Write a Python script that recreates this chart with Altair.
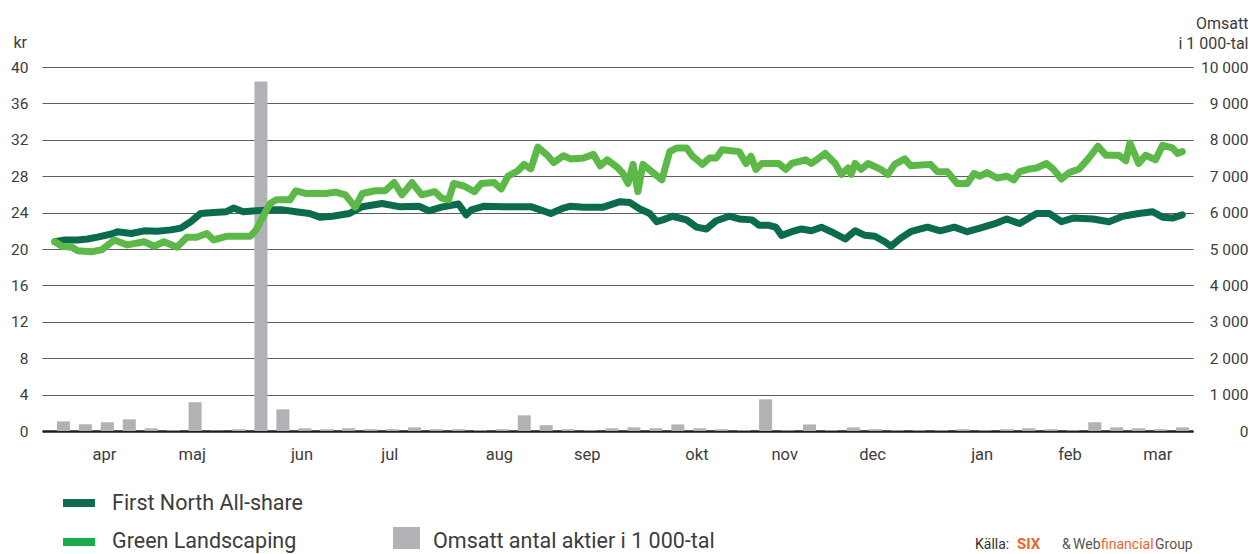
import altair as alt
import pandas as pd

FONT = "Roboto"
TXT = "#3c3c3c"

# ---- weekly traded volume (thousands of shares), weeks 1..52 ----
weeks = list(range(1, 53))
volume = [265, 185, 240, 320, 75, 20, 790, 10, 50, 9600,
          595, 75, 50, 75, 50, 50, 100, 50, 50, 20,
          50, 430, 160, 50, 20, 75, 100, 75, 180, 75,
          50, 20, 870, 20, 180, 20, 100, 50, 20, 20,
          20, 50, 20, 50, 75, 50, 20, 240, 100, 75,
          50, 100]

# ---- First North All-share (indexed, kr) : position in weeks / value ----
fn_w = [0.61, 1.06, 1.65, 2.10, 2.55, 3.19, 3.46, 4.09, 4.68, 5.27, 5.90, 6.35, 6.80, 7.25,
        7.84, 8.43, 8.75, 9.20, 9.78, 10.42, 11.00, 11.59, 12.22, 12.68, 13.26, 14.03, 14.62,
        15.52, 16.29, 17.20, 17.65, 18.23, 19.00, 19.36, 19.59, 20.18, 21.08, 22.30, 23.21,
        23.79, 24.11, 24.70, 25.60, 26.37, 26.82, 27.27, 27.72, 28.04, 28.31, 28.76, 29.40,
        29.85, 30.30, 30.75, 31.34, 31.79, 32.38, 32.70, 33.15, 33.46, 33.73, 34.19, 34.64,
        35.09, 35.54, 35.99, 36.63, 37.08, 37.53, 37.98, 38.43, 38.71, 39.16, 39.61, 40.06,
        40.38, 40.96, 41.60, 42.19, 42.77, 43.41, 43.99, 44.58, 45.35, 45.94, 46.48, 47.02,
        47.92, 48.65, 49.28, 50.00, 50.64, 51.09, 51.54, 51.99]
fn_kr = [20.8, 21.0, 21.0, 21.1, 21.3, 21.65, 21.9, 21.7, 22.0, 21.95, 22.1, 22.3, 23.0, 23.9,
         24.0, 24.1, 24.5, 24.1, 24.2, 24.3, 24.3, 24.1, 23.9, 23.5, 23.6, 23.9, 24.65,
         25.0, 24.65, 24.7, 24.2, 24.6, 24.95, 23.75, 24.3, 24.7, 24.65, 24.65, 23.9,
         24.5, 24.7, 24.6, 24.6, 25.2, 25.1, 24.4, 23.9, 23.0, 23.2, 23.6, 23.2,
         22.4, 22.2, 23.1, 23.6, 23.3, 23.2, 22.6, 22.6, 22.4, 21.5, 21.9, 22.2,
         22.0, 22.4, 21.9, 21.1, 22.0, 21.5, 21.4, 20.8, 20.3, 21.2, 21.9, 22.2,
         22.4, 22.0, 22.4, 21.9, 22.3, 22.75, 23.3, 22.8, 23.9, 23.9, 23.0, 23.4,
         23.3, 23.0, 23.6, 23.9, 24.1, 23.5, 23.4, 23.75]

# ---- Green Landscaping (kr) ----
gl_w = [0.61, 0.93, 1.38, 1.65, 2.28, 2.73, 3.32, 3.91, 4.68, 5.13, 5.58, 6.17, 6.62, 7.07,
        7.53, 7.84, 8.43, 9.20, 9.51, 9.78, 10.10, 10.42, 10.69, 11.32, 11.59, 12.04, 12.95,
        13.40, 13.85, 14.30, 14.62, 15.21, 15.66, 16.07, 16.43, 16.88, 17.33, 17.92, 18.23,
        18.55, 18.78, 19.27, 19.73, 20.04, 20.63, 20.95, 21.26, 21.71, 21.99, 22.30, 22.62,
        23.07, 23.34, 23.79, 24.11, 24.70, 25.15, 25.46, 25.78, 26.23, 26.50, 26.73, 26.96,
        27.18, 27.41, 27.86, 28.27, 28.63, 28.94, 29.40, 29.67, 30.12, 30.44, 30.75, 31.02,
        31.79, 32.11, 32.33, 32.56, 32.83, 33.60, 33.92, 34.19, 34.82, 35.09, 35.72, 36.17,
        36.45, 36.76, 36.90, 37.08, 37.35, 37.67, 38.25, 38.57, 38.88, 39.34, 39.61, 39.93,
        40.51, 40.83, 41.28, 41.73, 42.19, 42.50, 42.77, 43.09, 43.54, 43.99, 44.31, 44.58,
        45.03, 45.35, 45.80, 46.12, 46.48, 46.84, 47.29, 47.70, 48.15, 48.51, 49.10, 49.42,
        49.60, 50.00, 50.32, 50.77, 51.09, 51.54, 51.77, 51.99]
gl_kr = [20.8, 20.3, 20.2, 19.8, 19.7, 19.9, 21.0, 20.45, 20.8, 20.3, 20.8, 20.2, 21.3, 21.3,
         21.7, 21.0, 21.4, 21.4, 21.4, 22.1, 23.6, 25.0, 25.4, 25.4, 26.4, 26.1, 26.1,
         26.25, 25.95, 24.6, 26.1, 26.4, 26.4, 27.3, 25.95, 27.3, 25.95, 26.3, 25.6,
         25.4, 27.2, 26.9, 26.3, 27.2, 27.3, 26.6, 28.0, 28.6, 29.3, 28.8, 31.2,
         30.25, 29.5, 30.25, 29.9, 30.0, 30.4, 29.15, 29.8, 29.0, 28.3, 27.2, 29.3,
         26.3, 29.3, 28.4, 27.6, 30.7, 31.1, 31.1, 30.2, 29.3, 30.0, 30.0, 30.9,
         30.7, 29.4, 30.2, 28.75, 29.4, 29.4, 28.75, 29.4, 29.8, 29.4, 30.5, 29.4,
         28.2, 28.9, 28.2, 29.4, 28.75, 29.4, 28.75, 28.2, 29.3, 29.9, 29.15, 29.2,
         29.3, 28.5, 28.5, 27.2, 27.2, 28.3, 28.0, 28.4, 27.8, 28.0, 27.6, 28.5,
         28.8, 28.9, 29.4, 28.75, 27.7, 28.4, 28.8, 29.9, 31.3, 30.3, 30.3, 29.7,
         31.65, 29.4, 30.3, 29.8, 31.4, 31.1, 30.5, 30.7]

# ---- month tick labels ----
months = ["apr", "maj", "jun", "jul", "aug", "sep", "okt", "nov", "dec", "jan", "feb", "mar"]
month_pos = [2.87, 6.87, 11.87, 15.87, 20.87, 24.87, 29.87, 33.87, 37.87, 42.87, 46.87, 50.87]

legend_labels = ["First North All-share", "Green Landscaping", "Omsatt antal aktier i 1 000-tal"]
colors = ["#0b6b4e", "#5cb947", "#b1b2b6"]

xs = alt.Scale(domain=[0.25, 52.25], nice=False, zero=False)

bars = alt.Chart(pd.DataFrame({"week": weeks, "vol": volume})).mark_bar(
    size=13, color=colors[2]
).encode(
    x=alt.X("week:Q", scale=xs, axis=alt.Axis(labels=False, ticks=False, grid=False, domain=True,
                                              domainColor="#1e1e1e", domainWidth=2.5, title=None)),
    y=alt.Y("vol:Q", scale=alt.Scale(domain=[0, 10000], nice=False),
            axis=alt.Axis(orient="right", values=list(range(0, 10001, 1000)),
                          labelExpr="replace(format(datum.value, ','), ',', ' ')",
                          grid=False, ticks=False, tickSize=0, domain=False,
                          labelAlign="right", labelPadding=55, labelFontSize=15.5,
                          labelColor=TXT, labelFont=FONT,
                          title=["Omsatt", "i 1 000-tal"], titleAngle=0, titleAlign="right",
                          titleBaseline="alphabetic", titleX=55, titleY=-39, titleLineHeight=20,
                          titleFontSize=16, titleFontWeight="normal", titleColor=TXT, titleFont=FONT)),
)

ykr_axis = alt.Axis(orient="left", values=list(range(0, 41, 4)), grid=True, gridColor="#5e5e5e",
                    gridWidth=1.2, ticks=False, tickSize=0, domain=False, labelPadding=14,
                    labelFontSize=15.5, labelColor=TXT, labelFont=FONT,
                    title="kr", titleAngle=0, titleAlign="left", titleBaseline="alphabetic",
                    titleX=-29, titleY=-20, titleFontSize=16, titleFontWeight="normal",
                    titleColor=TXT, titleFont=FONT)
ykr_scale = alt.Scale(domain=[0, 40], nice=False)

fn_line = alt.Chart(pd.DataFrame({"w": fn_w, "kr": fn_kr})).mark_line(
    color=colors[0], strokeWidth=7, strokeCap="round", strokeJoin="round"
).encode(x=alt.X("w:Q", scale=xs), y=alt.Y("kr:Q", scale=ykr_scale, axis=ykr_axis))

gl_line = alt.Chart(pd.DataFrame({"w": gl_w, "kr": gl_kr})).mark_line(
    color=colors[1], strokeWidth=7, strokeCap="round", strokeJoin="round"
).encode(x=alt.X("w:Q", scale=xs), y=alt.Y("kr:Q", scale=ykr_scale, axis=ykr_axis))

lines = alt.layer(fn_line, gl_line)

month_text = alt.Chart(pd.DataFrame({"m": months, "pos": month_pos})).mark_text(
    fontSize=16.5, font=FONT, color=TXT, baseline="alphabetic", align="center"
).encode(x=alt.X("pos:Q", scale=xs), y=alt.value(393), text="m:N")

one = alt.Data(values=[{"k": 1}])

def rect(c, x1, x2, y1, y2):
    return alt.Chart(one).mark_rect(color=c).encode(
        x=alt.value(x1), x2=alt.value(x2), y=alt.value(y1), y2=alt.value(y2))

def label(t, x, y, size=21.5, color=TXT, weight="normal"):
    return alt.Chart(alt.Data(values=[{"t": t}])).mark_text(
        align="left", baseline="alphabetic", fontSize=size, font=FONT, color=color, fontWeight=weight
    ).encode(x=alt.value(x), y=alt.value(y), text="t:N")

legend = [
    rect("#0d6b4f", 21, 53, 432, 440),
    rect("#1aab4b", 21, 53, 471, 479),
    rect(colors[2], 351, 378, 460, 482),
    label(legend_labels[0], 70, 443),
    label(legend_labels[1], 70, 481),
    label(legend_labels[2], 391, 481),
    label("Källa:", 933, 482, size=14, color="#333333"),
    label("SIX", 975, 482, size=15, color="#f0642d", weight="bold"),
    label("&", 1020, 482, size=14, color="#555555"),
    label("Web", 1031, 482, size=14, color="#555555"),
    label("financial", 1059, 482, size=14, color="#f0642d"),
    label("Group", 1113, 482, size=14, color="#555555"),
]

chart = alt.layer(bars, lines, month_text, *legend).resolve_scale(y="independent").properties(
    width=1151, height=364,
    autosize=alt.AutoSizeParams(type="none"),
    padding={"left": 34, "top": 59, "right": 55, "bottom": 123},
).configure_view(stroke=None)

chart.save("out.html", embed_options={"renderer": "svg", "actions": False})
